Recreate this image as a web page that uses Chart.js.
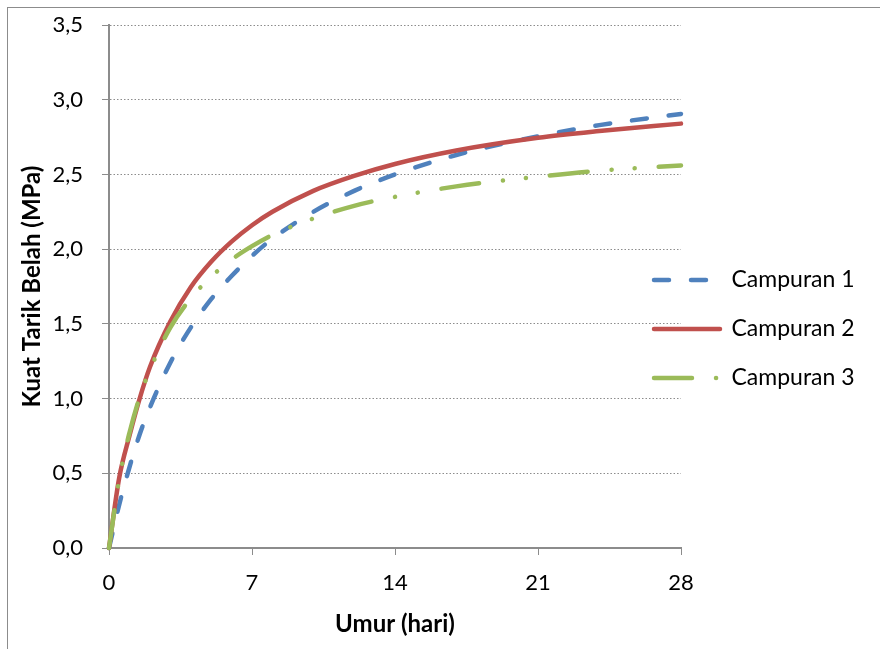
<!DOCTYPE html>
<html>
<head>
<meta charset="utf-8">
<script src="https://cdn.jsdelivr.net/npm/chart.js@4.4.0/dist/chart.umd.min.js"></script>
<style>
  html, body { margin: 0; padding: 0; background: #fff; }
</style>
</head>
<body>
<canvas id="chart" width="880" height="649"></canvas>
<script>
// umur (hari) dan kuat tarik belah (MPa)
const days = [0, 0.5, 1, 1.5, 2, 3, 4, 5, 6, 7, 8, 10, 12, 14, 17, 21, 24, 28];
const campuran1 = [0, 0.29, 0.54, 0.76, 0.94, 1.24, 1.475, 1.665, 1.82, 1.955, 2.07, 2.25, 2.39, 2.50, 2.63, 2.755, 2.83, 2.905];
const campuran2 = [0, 0.47, 0.75, 1.0, 1.21, 1.515, 1.745, 1.915, 2.05, 2.16, 2.25, 2.39, 2.49, 2.57, 2.66, 2.745, 2.79, 2.84];
const campuran3 = [0, 0.46, 0.77, 1.01, 1.19, 1.475, 1.67, 1.815, 1.93, 2.02, 2.095, 2.205, 2.29, 2.35, 2.42, 2.485, 2.525, 2.56];
const seriesNames = ['Campuran 1', 'Campuran 2', 'Campuran 3'];
const yTickLabels = ['0,0', '0,5', '1,0', '1,5', '2,0', '2,5', '3,0', '3,5'];
const xTickLabels = ['0', '7', '14', '21', '28'];

const toPoints = (vals) => days.map((d, i) => ({ x: d, y: vals[i] }));

Chart.defaults.font.family = 'Lato';
Chart.defaults.color = '#000';

const axisGray = '#8c8c8c';

// legenda Excel menumpuk area plot, geser ke kiri (kanan tetap supaya teks tidak terpotong)
const legendShift = {
  id: 'legendShift',
  afterLayout(chart) {
    const l = chart.legend;
    l.left -= 53;
    l.top -= 8; l.bottom -= 8;
  }
};

const frame = {
  id: 'frame',
  afterDraw(chart) {
    const ctx = chart.ctx;
    ctx.save();
    ctx.strokeStyle = axisGray;
    ctx.lineWidth = 1;
    ctx.strokeRect(7.5, 7.5, 900, 700);
    ctx.restore();
  }
};

// contoh garis di legenda ikut pola garis dataset
function legendLabels(chart) {
  const items = Chart.defaults.plugins.legend.labels.generateLabels(chart);
  items.forEach((it) => {
    const ds = chart.data.datasets[it.datasetIndex];
    it.lineDash = ds.borderDash || [];
    it.lineCap = 'round';
    it.lineWidth = ds.borderWidth;
    it.strokeStyle = ds.borderColor;
  });
  return items;
}

new Chart(document.getElementById('chart'), {
  type: 'line',
  data: {
    datasets: [
      {
        label: seriesNames[0],
        data: toPoints(campuran1),
        borderColor: '#4F81BD',
        backgroundColor: '#4F81BD',
        borderWidth: 4.5,
        borderDash: [15, 22],
        borderCapStyle: 'round',
        order: 3
      },
      {
        label: seriesNames[1],
        data: toPoints(campuran2),
        borderColor: '#C0504D',
        backgroundColor: '#C0504D',
        borderWidth: 4.5,
        borderCapStyle: 'round',
        order: 2
      },
      {
        label: seriesNames[2],
        data: toPoints(campuran3),
        borderColor: '#9BBB59',
        backgroundColor: '#9BBB59',
        borderWidth: 4.5,
        borderDash: [38, 24, 0.1, 23, 0.1, 24],
        borderCapStyle: 'round',
        order: 1
      }
    ]
  },
  options: {
    responsive: false,
    animation: false,
    layout: { padding: { top: 25, left: 0, right: 0, bottom: 0 } },
    elements: {
      point: { radius: 0 },
      line: { cubicInterpolationMode: 'monotone', fill: false }
    },
    datasets: { line: { clip: false } },
    plugins: {
      tooltip: { enabled: false },
      legend: {
        position: 'right',
        maxWidth: 199,
        labels: {
          usePointStyle: true,
          pointStyle: 'line',
          pointStyleWidth: 66,
          padding: 26,
          font: { size: 23 },
          color: '#000',
          generateLabels: legendLabels,
          sort: (a, b) => a.datasetIndex - b.datasetIndex
        }
      }
    },
    scales: {
      x: {
        type: 'linear',
        min: 0,
        max: 28,
        afterFit: (s) => { s.height = 101; },
        ticks: {
          stepSize: 7,
          padding: 15,
          font: { size: 22 },
          color: '#000',
          callback: (v, i) => xTickLabels[i]
        },
        grid: { drawOnChartArea: false, drawTicks: true, tickLength: 7, color: axisGray },
        border: { display: true, color: axisGray, width: 2 },
        title: {
          display: true,
          text: 'Umur (hari)',
          font: { size: 24, weight: 'bold' },
          color: '#000',
          padding: { top: 0, bottom: 10 }
        }
      },
      y: {
        min: 0,
        max: 3.5,
        afterFit: (s) => { s.width = 109; s.paddingTop = 0; },
        ticks: {
          stepSize: 0.5,
          padding: 19,
          font: { size: 22 },
          color: '#000',
          callback: (v, i) => yTickLabels[i]
        },
        grid: { color: axisGray, lineWidth: 1, tickLength: 7, tickColor: axisGray },
        border: { display: true, color: axisGray, width: 2, dash: [1.5, 2] },
        title: {
          display: true,
          text: 'Kuat Tarik Belah (MPa)',
          font: { size: 24, weight: 'bold' },
          color: '#000',
          padding: { top: 18, bottom: 0 }
        }
      }
    }
  },
  plugins: [legendShift, frame]
});
</script>
</body>
</html>
